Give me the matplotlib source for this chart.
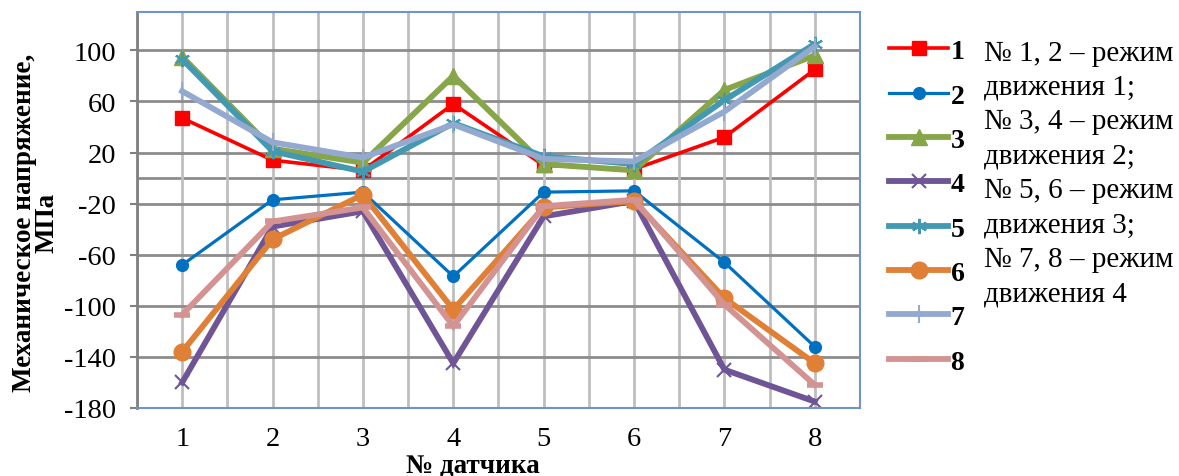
import numpy as np
import matplotlib
matplotlib.use("Agg")
from matplotlib import pyplot as plt

plt.rcParams['font.family'] = ['Liberation Serif', 'DejaVu Serif']
plt.rcParams['axes.unicode_minus'] = False

# sensor numbers and stress values, MPa
sensors = [1, 2, 3, 4, 5, 6, 7, 8]
s1 = [47, 14, 6, 58, 10, 7, 32, 85]
s2 = [-68, -17, -11, -77, -11, -10, -66, -132]
s3 = [95, 23, 12, 80, 11, 6, 69, 96]
s4 = [-160, -38, -26, -145, -30, -18, -150, -175]
s5 = [93, 21, 5, 43, 17, 11, 61, 105]
s6 = [-136, -48, -13, -103, -23, -18, -94, -145]
s7 = [68, 28, 16, 42, 15, 13, 52, 103]
s8 = [-107, -34, -23, -116, -22, -17, -99, -162]
series_names = ['1', '2', '3', '4', '5', '6', '7', '8']
yticks = [100, 60, 20, -20, -60, -100, -140, -180]
note = ("№ 1, 2 – режим\nдвижения 1;\n№ 3, 4 – режим\nдвижения 2;\n"
        "№ 5, 6 – режим\nдвижения 3;\n№ 7, 8 – режим\nдвижения 4")

styles = [
    dict(color='#ff0000', marker='s', ms=10, lw=2.6),
    dict(color='#0070c0', marker='o', ms=8.5, lw=2.3),
    dict(color='#87a64a', marker='^', ms=11, lw=4.2),
    dict(color='#6f5596', marker='x', ms=10, mew=1.5, lw=4.2),
    dict(color='#4299b1', marker=(6, 2, 0), ms=11, mew=1.5, lw=4.2),
    dict(color='#e08036', marker='o', ms=12, lw=4.2),
    dict(color='#93a9d0', marker='|', ms=13, mew=1.5, lw=4.2),
    dict(color='#d39392', marker='_', ms=12, mew=4, lw=4.2),
]

fig = plt.figure(figsize=(11.79, 4.77), dpi=100)
ax = fig.add_axes([0.1162, 0.1426, 0.6132, 0.8301])

for vals, name, st in zip([s1, s2, s3, s4, s5, s6, s7, s8], series_names, styles):
    ax.plot(sensors, vals, label=name, solid_joinstyle='miter', **st)

ax.set_xlim(0.5, 8.5)
ax.set_ylim(-180, 130)
ax.set_yticks(yticks)
ax.set_xticks(sensors)
ax.set_xticks(np.arange(0.5, 9, 1.0), minor=True)
ax.grid(axis='x', which='both', color='#bfbfbf', lw=2)
ax.grid(axis='y', which='major', color='#8c8c8c', lw=2)
ax.axhline(0, color='#8c8c8c', lw=2, zorder=0.5)
ax.set_axisbelow(True)

for side in ['top', 'right', 'bottom']:
    ax.spines[side].set_color('#6f94c8')
    ax.spines[side].set_linewidth(1.5)
ax.spines['left'].set_color('#808080')
ax.spines['left'].set_linewidth(2)

ax.tick_params(axis='y', which='major', length=5, color='#808080', width=1.5,
               labelsize=20.5, pad=10)
ax.tick_params(axis='x', which='both', length=0, labelsize=20.5, pad=13)

ax.set_xlabel('№ датчика', fontsize=19.5, fontweight='bold', va='center')
ax.xaxis.set_label_coords(0.465, -0.145)
ax.set_ylabel('Механическое напряжение,\nМПа', fontsize=19.5, fontweight='bold',
              linespacing=0.9, va='center')
ax.yaxis.set_label_coords(-0.14, 0.47)

fig.legend(loc='upper left', bbox_to_anchor=(0.745, 0.94), frameon=False,
           prop=dict(size=20, weight='bold'), handlelength=2.1, handletextpad=0.1,
           labelspacing=0.68, borderaxespad=0)

fig.text(0.835, 0.915, note, fontsize=21, va='top', ha='left', linespacing=1.42)

fig.savefig('out.png', dpi=100)
